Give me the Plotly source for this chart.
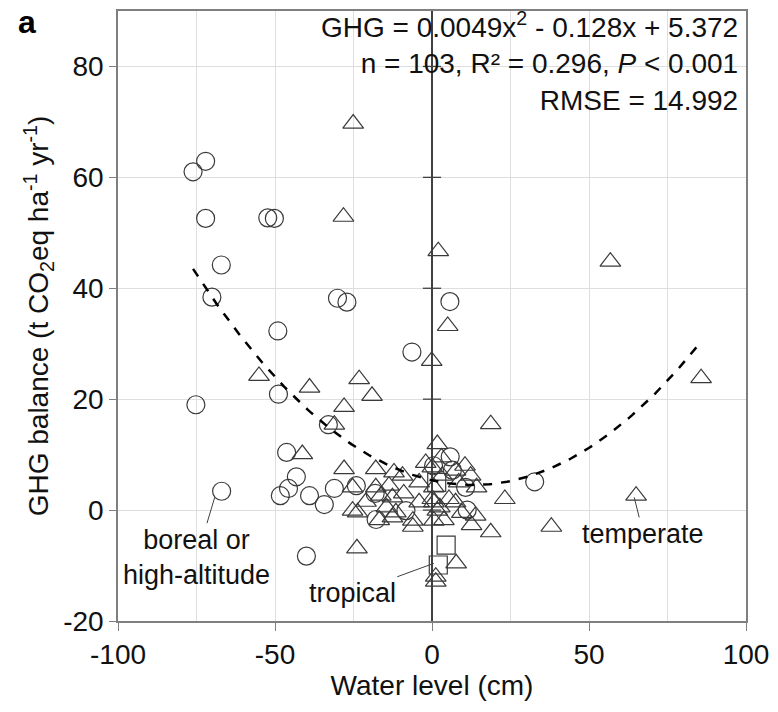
import plotly.graph_objects as go
import numpy as np

# --- data ---
boreal_x = [-76.1, -72.1, -72.1, -52.3, -50.2, -67.1, -70.1, -49.1, -30.1, -27.1,
            -75.2, -48.9, -33.0, -46.3, -43.2, -45.7, -48.3, -39.0, -34.3, -31.1,
            -24.1, -40.0, -67.0, -17.8, -8.3, -18.1, -6.4, 5.7, 32.7, 0.5,
            5.8, 6.5, 10.7, 11.2]
boreal_y = [61.0, 62.9, 52.6, 52.7, 52.6, 44.2, 38.4, 32.3, 38.2, 37.5,
            19.0, 20.9, 15.4, 10.4, 6.0, 3.9, 2.6, 2.6, 1.0, 3.9,
            4.4, -8.3, 3.4, -1.7, -0.1, 3.0, 28.5, 37.6, 5.1, 8.0,
            9.6, 7.2, 4.1, 0.0]

temperate_x = [-25.1, -28.2, 2.0, 5.0, -0.1, 18.7, 56.8, 85.7, 65.0, 38.0,
               23.2, 18.7, 12.6, 14.2, 10.5, 1.7, 3.8, 7.7, 1.2, 1.2,
               -6.1, 13.9,
               -55.1, -39.0, -23.2, -19.1, -28.0, -31.1, -41.3, -28.0, -23.9,
               -17.9, -12.1, -9.4, -4.1, -25.3, -17.9, -13.7, -12.6, -16.3, -25.3,
               -23.7, -4.1, -11.5, -12.6, -16.8, 0.6,
               7.5, 12.3, 3.3, 0.1, 0.6, 5.4, 0.1, 1.7, 7.5, -6.1, 0.6,
               -21.0, -9.0, -2.0, 3.0, 8.5, -14.5, 2.5, 9.5]
temperate_y = [69.7, 52.9, 46.7, 33.2, 26.9, 15.5, 44.8, 23.8, 2.6, -3.0,
               2.0, -4.0, -2.7, 4.1, 8.0, 11.9, -1.8, -9.6, -12.0, -12.9,
               -3.0, -1.0,
               24.2, 22.1, 23.6, 20.6, 18.6, 15.4, 10.1, 7.4, -6.9,
               7.4, 6.8, 6.2, 5.0, 4.1, 4.1, 4.4, 2.3, 2.6, -0.1,
               -0.4, 1.4, -0.4, -1.3, -1.8, 1.4,
               7.1, 6.2, 6.2, 7.7, 4.1, 2.0, 2.0, -0.1, 1.4, -1.9, -1.9,
               1.5, 3.0, 8.5, 9.5, 5.0, 0.5, 0.5, -0.5]

tropical_x = [4.5, 2.0, 1.5]
tropical_y = [-6.3, -9.9, 5.0]

fit_coef = [0.0049, -0.128, 5.372]  # GHG = a x^2 + b x + c

x_tick_vals = [-100, -50, 0, 50, 100]
x_tick_text = ["-100", "-50", "0", "50", "100"]
y_tick_vals = [-20, 0, 20, 40, 60, 80]
y_tick_text = ["-20", "0", "20", "40", "60", "80"]

# --- figure ---
FONT = "Liberation Sans, Arial, sans-serif"
MK = "#3a3a3a"

fig = go.Figure()

all_x = boreal_x + temperate_x + tropical_x
xf = np.linspace(min(all_x), max(all_x), 200)
yf = np.polyval(fit_coef, xf)

mk = dict(size=18, color=MK, line=dict(width=1.2, color=MK))
fig.add_trace(go.Scatter(x=temperate_x, y=temperate_y, mode="markers",
                         marker=dict(symbol="triangle-up-open", **mk), name="temperate"))
fig.add_trace(go.Scatter(x=boreal_x, y=boreal_y, mode="markers",
                         marker=dict(symbol="circle-open", **mk), name="boreal"))
fig.add_trace(go.Scatter(x=tropical_x, y=tropical_y, mode="markers",
                         marker=dict(symbol="square-open", **mk), name="tropical"))
fig.add_trace(go.Scatter(x=xf, y=yf, mode="lines",
                         line=dict(color="black", width=2.5, dash="dash"), name="fit"))

# cross ticks on the x=0 axis line
for yv in y_tick_vals[1:]:
    fig.add_shape(type="line", x0=-2.9, x1=2.9, y0=yv, y1=yv,
                  line=dict(color="#404040", width=1.3), layer="above")

ann_font = dict(family=FONT, size=28, color="#111")
fig.add_annotation(xref="paper", yref="paper", x=0.99, y=1.01, xanchor="right", yanchor="top",
                   align="right", showarrow=False, font=ann_font,
                   text="GHG = 0.0049x<sup>2</sup> - 0.128x + 5.372<br>"
                        "n = 103, R² = 0.296, <i>P</i> &lt; 0.001<br>RMSE = 14.992")
lab_font = dict(family=FONT, size=27, color="#111")
fig.add_annotation(x=-69.2, y=2.3, ax=-74.9, ay=-8.5, axref="x", ayref="y",
                   text="boreal or<br>high-altitude", showarrow=True, arrowhead=0,
                   arrowwidth=1, arrowcolor="#404040", font=lab_font, align="center")
fig.add_annotation(x=0.6, y=-9.6, ax=-25.4, ay=-15.0, axref="x", ayref="y",
                   text="tropical", showarrow=True, arrowhead=0,
                   arrowwidth=1, arrowcolor="#404040", font=lab_font)
fig.add_annotation(x=64.4, y=2.3, ax=67.3, ay=-4.3, axref="x", ayref="y",
                   text="temperate", showarrow=True, arrowhead=0,
                   arrowwidth=1, arrowcolor="#404040", font=lab_font)
fig.add_annotation(xref="paper", yref="paper", x=-0.145, y=1.014, xanchor="center", yanchor="top",
                   text="<b>a</b>", showarrow=False, font=dict(family=FONT, size=32, color="black"))

fig.update_layout(
    width=778, height=712,
    margin=dict(l=118, r=30, t=9, b=91),
    paper_bgcolor="white", plot_bgcolor="white",
    showlegend=False,
    font=dict(family=FONT, size=28, color="#111"),
    xaxis=dict(range=[-100, 100], tickvals=x_tick_vals, ticktext=x_tick_text,
               ticks="outside", ticklen=8,
               tickcolor="#7f7f7f", tickwidth=1.3,
               showline=True, mirror=True, linecolor="#7f7f7f", linewidth=1.5,
               showgrid=True, gridcolor="#dedede", gridwidth=1,
               minor=dict(dtick=25, tick0=0, showgrid=True, gridcolor="#dedede", ticks=""),
               zeroline=True, zerolinecolor="#404040", zerolinewidth=1.5,
               title=dict(text="Water level (cm)", font=dict(size=28), standoff=6),
               tickfont=dict(size=28)),
    yaxis=dict(range=[-20, 90], tickvals=y_tick_vals, ticktext=y_tick_text,
               ticks="outside", ticklen=7,
               tickcolor="#7f7f7f", tickwidth=1.3,
               showline=True, mirror=True, linecolor="#7f7f7f", linewidth=1.5,
               showgrid=True, gridcolor="#dedede", gridwidth=1, zeroline=False,
               title=dict(text="GHG balance (t CO<sub>2</sub>eq ha<sup>-1</sup> yr<sup>-1</sup>)",
                          font=dict(size=28), standoff=6),
               tickfont=dict(size=28)),
)

fig.write_html("out.html")
